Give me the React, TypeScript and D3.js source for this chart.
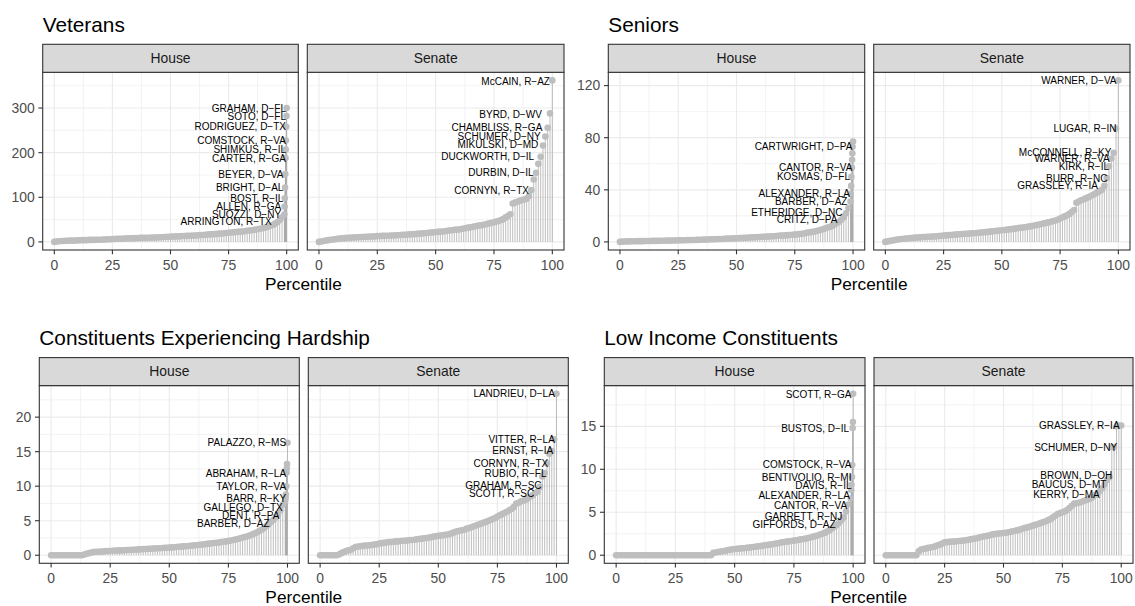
import React from "react";
import * as d3 from "d3";

// ---------------- DATA ----------------
const xTicks = [0, 25, 50, 75, 100];
const xMinor = [12.5, 37.5, 62.5, 87.5];

const vetYTicks = [0, 100, 200, 300];
const vetYMinor = [50, 150, 250, 350];
const senYTicks = [0, 40, 80, 120];
const senYMinor = [20, 60, 100];
const hardYTicks = [0, 5, 10, 15, 20];
const hardYMinor = [2.5, 7.5, 12.5, 17.5, 22.5];
const lowYTicks = [0, 5, 10, 15];
const lowYMinor = [2.5, 7.5, 12.5, 17.5];

// value at each integer percentile (index = percentile)
const vetHouseCurve = [
  0, 1, 1.5, 2, 2, 2.5, 2.5, 3, 3, 3,
  3.5, 3.5, 4, 4, 4, 4.5, 4.5, 4.5, 5, 5,
  5, 5.5, 5.5, 6, 6, 6.5, 6.5, 7, 7, 7,
  7.5, 7.5, 8, 8, 8, 8.5, 8.5, 9, 9, 9,
  9.5, 9.5, 10, 10, 10, 10.5, 10.5, 11, 11, 11.5,
  11.5, 12, 12, 12.5, 12.5, 13, 13, 13.5, 14, 14,
  14.5, 14.5, 15, 15.5, 15.5, 16, 16.5, 17, 17, 17.5,
  18, 18.5, 19, 19.5, 20, 20.5, 21, 21.5, 22, 22.5,
  23, 23.5, 24, 25, 25.5, 26, 27, 28, 29, 30,
  31, 32.5, 34, 36, 38, 41, 44, 49, 55,
];
const vetHouseTops: [number, number][] = [
  [99.0, 62], [99.1, 79], [99.2, 98], [99.3, 122], [99.4, 152], [99.5, 188],
  [99.6, 207], [99.7, 227], [99.8, 258], [99.9, 282], [100, 300],
];
const vetHouseLabels: [string, number, number][] = [
  ["GRAHAM, D\u2212FL", 99.7, 300], ["SOTO, D\u2212FL", 99.7, 282],
  ["RODRIGUEZ, D\u2212TX", 99.7, 258], ["COMSTOCK, R\u2212VA", 99.7, 227],
  ["SHIMKUS, R\u2212IL", 99.7, 207], ["CARTER, R\u2212GA", 99.7, 188],
  ["BEYER, D\u2212VA", 98.6, 152], ["BRIGHT, D\u2212AL", 98.6, 122],
  ["BOST, R\u2212IL", 98.6, 98], ["ALLEN, R\u2212GA", 97.6, 79],
  ["SUOZZI, D\u2212NY", 97.6, 62], ["ARRINGTON, R\u2212TX", 93.6, 45],
];

const vetSenateCurve = [
  0, 1, 2, 3, 4, 5, 5.5, 6, 7, 7.5,
  8, 8.5, 9, 9.5, 10, 10, 10.5, 10.5, 11, 11,
  11.5, 11.5, 12, 12, 12.5, 13, 13, 13.5, 13.5, 14,
  14, 14.5, 14.5, 15, 15, 15.5, 16, 16, 16.5, 17,
  17, 17.5, 18, 18.5, 19, 19.5, 20, 20.5, 21, 21.5,
  22, 22.5, 23, 23.5, 24, 25, 25.5, 26, 27, 27.5,
  28, 29, 30, 31, 32, 33, 34, 35, 36, 37,
  38, 39, 40, 41.5, 43, 44, 45.5, 47, 49, 51,
  55, 58, 62, 86, 88, 90, 92, 94, 95, 97,
  103, 116, 140, 155, 175, 191, 216, 236, 256, 288, 362,
];
const vetSenateTops: [number, number][] = [];
const vetSenateLabels: [string, number, number][] = [
  ["McCAIN, R\u2212AZ", 99, 360], ["BYRD, D\u2212WV", 95.5, 286],
  ["CHAMBLISS, R\u2212GA", 95.7, 256], ["SCHUMER, D\u2212NY", 95, 237],
  ["MIKULSKI, D\u2212MD", 94, 219], ["DUCKWORTH, D\u2212IL", 92.2, 191],
  ["DURBIN, D\u2212IL", 92, 155], ["CORNYN, R\u2212TX", 90, 116],
];

const senHouseCurve = [
  0, 0.2, 0.3, 0.4, 0.4, 0.5, 0.5, 0.5, 0.6, 0.6,
  0.6, 0.7, 0.7, 0.7, 0.8, 0.8, 0.8, 0.9, 0.9, 0.9,
  1, 1, 1, 1.1, 1.1, 1.2, 1.2, 1.3, 1.3, 1.4,
  1.4, 1.5, 1.5, 1.6, 1.6, 1.7, 1.8, 1.8, 1.9, 2,
  2, 2.1, 2.2, 2.2, 2.3, 2.4, 2.5, 2.6, 2.6, 2.7,
  2.8, 2.9, 3, 3.1, 3.2, 3.3, 3.4, 3.5, 3.6, 3.7,
  3.8, 3.9, 4, 4.1, 4.2, 4.3, 4.4, 4.6, 4.7, 4.8,
  4.9, 5, 5.2, 5.3, 5.5, 5.6, 5.8, 6, 6.2, 6.5,
  7, 7.2, 7.5, 7.8, 8.2, 8.7, 9.2, 9.7, 10.3, 11,
  11.5, 12.3, 13.2, 14.6, 15.5, 17, 19, 22, 26,
];
const senHouseTops: [number, number][] = [
  [98.9, 31], [99.0, 37], [99.2, 43], [99.3, 50], [99.5, 57],
  [99.6, 63], [99.7, 68], [99.8, 73], [100, 77],
];
const senHouseLabels: [string, number, number][] = [
  ["CARTWRIGHT, D\u2212PA", 99.7, 73.6], ["CANTOR, R\u2212VA", 99.7, 57.4],
  ["KOSMAS, D\u2212FL", 98.7, 50.5], ["ALEXANDER, R\u2212LA", 98.7, 37.2],
  ["BARBER, D\u2212AZ", 97.6, 30.8], ["ETHERIDGE, D\u2212NC", 95.5, 22.8],
  ["CRITZ, D\u2212PA", 93.3, 17.2],
];

const senSenateCurve = [
  0, 0.4, 0.8, 1.1, 1.4, 1.8, 2, 2.2, 2.4, 2.6,
  2.8, 3, 3.1, 3.3, 3.4, 3.5, 3.7, 3.8, 3.9, 4,
  4.1, 4.2, 4.4, 4.5, 4.7, 4.9, 5, 5.2, 5.3, 5.5,
  5.6, 5.8, 5.9, 6, 6.2, 6.3, 6.4, 6.6, 6.7, 6.9,
  7, 7.2, 7.4, 7.5, 7.7, 7.9, 8.1, 8.3, 8.6, 8.8,
  9, 9.2, 9.4, 9.6, 9.8, 10, 10.3, 10.6, 10.8, 11,
  11.3, 11.6, 11.9, 12.2, 12.6, 13, 13.4, 13.8, 14.2, 14.6,
  15, 15.5, 16, 16.5, 17, 18, 18.8, 19.6, 20.5, 21.5,
  23, 24.5, 30, 31, 32, 32.6, 33.4, 34.2, 35, 36,
  37, 38, 39, 40, 43, 49, 58, 64, 68.5, 87, 124,
];
const senSenateTops: [number, number][] = [];
const senSenateLabels: [string, number, number][] = [
  ["WARNER, D\u2212VA", 99.2, 124], ["LUGAR, R\u2212IN", 99.2, 87],
  ["McCONNELL, R\u2212KY", 97, 68.5], ["WARNER, R\u2212VA", 96.3, 64],
  ["KIRK, R\u2212IL", 96, 58], ["BURR, R\u2212NC", 95.3, 49],
  ["GRASSLEY, R\u2212IA", 91.2, 43],
];

const hardHouseCurve = [
  0, 0, 0, 0, 0, 0, 0, 0, 0, 0,
  0, 0, 0, 0, 0.1, 0.2, 0.3, 0.4, 0.45, 0.5,
  0.5, 0.55, 0.55, 0.6, 0.6, 0.62, 0.65, 0.67, 0.68, 0.7,
  0.7, 0.72, 0.74, 0.76, 0.78, 0.8, 0.82, 0.84, 0.86, 0.88,
  0.9, 0.92, 0.94, 0.96, 0.98, 1, 1.02, 1.04, 1.06, 1.08,
  1.1, 1.13, 1.16, 1.19, 1.22, 1.25, 1.28, 1.31, 1.34, 1.37,
  1.4, 1.44, 1.48, 1.52, 1.56, 1.6, 1.64, 1.68, 1.72, 1.76,
  1.8, 1.85, 1.9, 1.95, 2, 2.06, 2.12, 2.2, 2.28, 2.36,
  2.45, 2.55, 2.65, 2.75, 2.85, 3, 3.15, 3.3, 3.5, 3.7,
  3.9, 4.2, 4.5, 4.8, 5.1, 5.5, 5.9, 6.5, 7.3,
];
const hardHouseTops: [number, number][] = [
  [99.0, 7.8], [99.2, 8.3], [99.3, 8.8], [99.5, 10.0], [99.6, 12.0],
  [99.7, 12.6], [99.8, 13.2], [100, 16.3],
];
const hardHouseLabels: [string, number, number][] = [
  ["PALAZZO, R\u2212MS", 99.4, 16.3], ["ABRAHAM, R\u2212LA", 99.4, 11.9],
  ["TAYLOR, R\u2212VA", 99.4, 10.0], ["BARR, R\u2212KY", 99.4, 8.25],
  ["GALLEGO, D\u2212TX", 98, 6.9], ["DENT, R\u2212PA", 96.6, 5.75],
  ["BARBER, D\u2212AZ", 92.4, 4.56],
];

const hardSenateCurve = [
  0, 0, 0, 0, 0, 0, 0, 0, 0.1, 0.3,
  0.45, 0.6, 0.7, 0.8, 1, 1.2, 1.25, 1.3, 1.35, 1.4,
  1.4, 1.45, 1.5, 1.55, 1.6, 1.7, 1.75, 1.8, 1.85, 1.9,
  1.9, 1.95, 2, 2, 2.05, 2.1, 2.1, 2.15, 2.2, 2.2,
  2.25, 2.3, 2.35, 2.4, 2.45, 2.5, 2.55, 2.6, 2.7, 2.75,
  2.8, 2.85, 2.9, 2.95, 3, 3.1, 3.2, 3.35, 3.45, 3.55,
  3.6, 3.7, 3.85, 3.95, 4.05, 4.2, 4.3, 4.45, 4.55, 4.7,
  4.8, 4.95, 5.1, 5.25, 5.4, 5.6, 5.8, 5.95, 6.1, 6.3,
  6.5, 6.7, 7, 7.5, 7.6, 7.8, 7.9, 8.05, 8.25, 8.5,
  8.7, 9, 9.2, 9.9, 11.4, 11.9, 13.3, 14.7, 15.1, 16.8, 23.4,
];
const hardSenateTops: [number, number][] = [];
const hardSenateLabels: [string, number, number][] = [
  ["LANDRIEU, D\u2212LA", 99.3, 23.4], ["VITTER, R\u2212LA", 99.3, 16.8],
  ["ERNST, R\u2212IA", 98.6, 15.1], ["CORNYN, R\u2212TX", 96.5, 13.3],
  ["RUBIO, R\u2212FL", 95.8, 11.9], ["GRAHAM, R\u2212SC", 93.7, 10.1],
  ["SCOTT, R\u2212SC", 90.6, 9.0],
];

const lowHouseCurve = [
  0, 0, 0, 0, 0, 0, 0, 0, 0, 0,
  0, 0, 0, 0, 0, 0, 0, 0, 0, 0,
  0, 0, 0, 0, 0, 0, 0, 0, 0, 0,
  0, 0, 0, 0, 0, 0, 0, 0, 0, 0,
  0, 0.27, 0.32, 0.37, 0.42, 0.46, 0.52, 0.58, 0.63, 0.68,
  0.73, 0.75, 0.77, 0.8, 0.82, 0.85, 0.88, 0.92, 0.96, 1,
  1.04, 1.08, 1.12, 1.16, 1.2, 1.23, 1.28, 1.33, 1.38, 1.44,
  1.5, 1.54, 1.58, 1.62, 1.66, 1.7, 1.74, 1.79, 1.84, 1.88,
  1.93, 2, 2.07, 2.14, 2.22, 2.3, 2.4, 2.5, 2.6, 2.75,
  2.9, 3.1, 3.3, 3.5, 3.75, 4.05, 4.4, 5.1, 5.9,
];
const lowHouseTops: [number, number][] = [
  [99.0, 6.6], [99.2, 7.6], [99.3, 8.2], [99.5, 9.1], [99.6, 10.5],
  [99.8, 14.8], [99.9, 15.5], [100, 18.8],
];
const lowHouseLabels: [string, number, number][] = [
  ["SCOTT, R\u2212GA", 99.3, 18.7], ["BUSTOS, D\u2212IL", 98.3, 14.7],
  ["COMSTOCK, R\u2212VA", 99.3, 10.5], ["BENTIVOLIO, R\u2212MI", 99.3, 9.06],
  ["DAVIS, R\u2212IL", 99.3, 8.06], ["ALEXANDER, R\u2212LA", 98.6, 7.0],
  ["CANTOR, R\u2212VA", 97.5, 5.75], ["GARRETT, R\u2212NJ", 95.4, 4.5],
  ["GIFFORDS, D\u2212AZ", 92.6, 3.6],
];

const lowSenateCurve = [
  0, 0, 0, 0, 0, 0, 0, 0, 0, 0,
  0, 0, 0, 0, 0.46, 0.66, 0.72, 0.78, 0.85, 0.9,
  0.96, 1.05, 1.15, 1.23, 1.35, 1.5, 1.52, 1.55, 1.58, 1.6,
  1.62, 1.65, 1.68, 1.7, 1.75, 1.8, 1.85, 1.9, 1.95, 2.0,
  2.08, 2.15, 2.2, 2.25, 2.3, 2.4, 2.45, 2.5, 2.52, 2.55,
  2.58, 2.62, 2.68, 2.72, 2.78, 2.85, 2.92, 3, 3.08, 3.16,
  3.24, 3.32, 3.4, 3.5, 3.58, 3.66, 3.76, 3.86, 3.96, 4.08,
  4.2, 4.4, 4.6, 4.8, 4.9, 5, 5.1, 5.25, 5.5, 5.75,
  6, 6.05, 6.1, 6.2, 6.3, 6.4, 6.5, 6.6, 6.8, 7.0,
  7.2, 7.5, 7.8, 8.25, 8.75, 9.1, 12.6, 12.6, 15.0, 15.1, 15.1,
];
const lowSenateTops: [number, number][] = [];
const lowSenateLabels: [string, number, number][] = [
  ["GRASSLEY, R\u2212IA", 99.3, 15.1], ["SCHUMER, D\u2212NY", 98.3, 12.5],
  ["BROWN, D\u2212OH", 96.2, 9.25], ["BAUCUS, D\u2212MT", 93.7, 8.2],
  ["KERRY, D\u2212MA", 90.9, 7.1],
];

const chambers = ["House", "Senate"];
const titles = ["Veterans", "Seniors", "Constituents Experiencing Hardship", "Low Income Constituents"];

// ---------------- LAYOUT ----------------
const FONT = "'Liberation Sans', Arial, Helvetica, sans-serif";
const layouts = [
  { house: [42.7, 298.3], senate: [307.3, 564], top: 44.3 },
  { house: [608.3, 864.7], senate: [873.7, 1130], top: 44.3 },
  { house: [39.3, 299.3], senate: [308.3, 568.3], top: 357.6 },
  { house: [604.3, 865], senate: [874, 1133], top: 357.6 },
];
const STRIP_H = 28;
const PANEL_H = 177.7;

type PanelData = { curve: number[]; tops: [number, number][]; labels: [string, number, number][] };

const plots: { yTicks: number[]; yMinor: number[]; panels: PanelData[] }[] = [
  { yTicks: vetYTicks, yMinor: vetYMinor, panels: [
    { curve: vetHouseCurve, tops: vetHouseTops, labels: vetHouseLabels },
    { curve: vetSenateCurve, tops: vetSenateTops, labels: vetSenateLabels }] },
  { yTicks: senYTicks, yMinor: senYMinor, panels: [
    { curve: senHouseCurve, tops: senHouseTops, labels: senHouseLabels },
    { curve: senSenateCurve, tops: senSenateTops, labels: senSenateLabels }] },
  { yTicks: hardYTicks, yMinor: hardYMinor, panels: [
    { curve: hardHouseCurve, tops: hardHouseTops, labels: hardHouseLabels },
    { curve: hardSenateCurve, tops: hardSenateTops, labels: hardSenateLabels }] },
  { yTicks: lowYTicks, yMinor: lowYMinor, panels: [
    { curve: lowHouseCurve, tops: lowHouseTops, labels: lowHouseLabels },
    { curve: lowSenateCurve, tops: lowSenateTops, labels: lowSenateLabels }] },
];

function Panel({ x0, x1, top, name, data, y, yTicks, yMinor, showY }: any) {
  const x = d3.scaleLinear().domain([-5, 105]).range([x0, x1]);
  const pTop = top + STRIP_H;
  const pBot = pTop + PANEL_H;
  const pts: [number, number][] = (data.curve as number[]).map((v, i) => [i, v] as [number, number]).concat(data.tops);
  return (
    <g>
      <rect x={x0} y={pTop} width={x1 - x0} height={PANEL_H} fill="#FFFFFF" />
      {yMinor.map((t: number) => (
        <line key={"ym" + t} x1={x0} x2={x1} y1={y(t)} y2={y(t)} stroke="#EBEBEB" strokeWidth={0.6} />
      ))}
      {xMinor.map((t) => (
        <line key={"xm" + t} x1={x(t)} x2={x(t)} y1={pTop} y2={pBot} stroke="#EBEBEB" strokeWidth={0.6} />
      ))}
      {yTicks.map((t: number) => (
        <line key={"yM" + t} x1={x0} x2={x1} y1={y(t)} y2={y(t)} stroke="#EBEBEB" strokeWidth={1.15} />
      ))}
      {xTicks.map((t) => (
        <line key={"xM" + t} x1={x(t)} x2={x(t)} y1={pTop} y2={pBot} stroke="#EBEBEB" strokeWidth={1.15} />
      ))}
      {pts.map(([p, v], i) => (
        <line key={"s" + i} x1={x(p)} x2={x(p)} y1={y(0)} y2={y(v)} stroke="#A9A9A9" strokeWidth={0.75} />
      ))}
      {pts.map(([p, v], i) => (
        <circle key={"c" + i} cx={x(p)} cy={y(v)} r={3.3} fill="#BEBEBE" />
      ))}
      {data.labels.map(([t, lx, ly]: [string, number, number], i: number) => (
        <text key={"l" + i} x={x(lx)} y={y(ly)} dy="0.35em" textAnchor="end" fontSize={10}
          fontFamily={FONT} fill="#000000">{t}</text>
      ))}
      <rect x={x0} y={pTop} width={x1 - x0} height={PANEL_H} fill="none" stroke="#333333" strokeWidth={1.1} />
      <rect x={x0} y={top} width={x1 - x0} height={STRIP_H} fill="#D9D9D9" stroke="#333333" strokeWidth={1.1} />
      <text x={(x0 + x1) / 2} y={top + STRIP_H / 2} dy="0.35em" textAnchor="middle" fontSize={13.9}
        fontFamily={FONT} fill="#1A1A1A">{name}</text>
      {xTicks.map((t) => (
        <g key={"xt" + t}>
          <line x1={x(t)} x2={x(t)} y1={pBot} y2={pBot + 4.3} stroke="#333333" strokeWidth={1.1} />
          <text x={x(t)} y={pBot + 20} textAnchor="middle" fontSize={13.9} fontFamily={FONT} fill="#4D4D4D">{t}</text>
        </g>
      ))}
      {showY && yTicks.map((t: number) => (
        <g key={"yt" + t}>
          <line x1={x0 - 4.3} x2={x0} y1={y(t)} y2={y(t)} stroke="#333333" strokeWidth={1.1} />
          <text x={x0 - 8} y={y(t)} dy="0.35em" textAnchor="end" fontSize={13.9} fontFamily={FONT} fill="#4D4D4D">{t}</text>
        </g>
      ))}
    </g>
  );
}

export default function App() {
  return (
    <svg width={1135} height={606} style={{ position: "absolute", left: 0, top: 0, background: "#FFFFFF" }}>
      <rect x={0} y={0} width={1135} height={606} fill="#FFFFFF" />
      {plots.map((pl, k) => {
        const L = layouts[k];
        const allVals = pl.panels.flatMap((p) => p.curve.concat(p.tops.map((t) => t[1])));
        const mx = d3.max(allVals) as number;
        const pTop = L.top + STRIP_H;
        const y = d3.scaleLinear().domain([-0.05 * mx, 1.05 * mx]).range([pTop + PANEL_H, pTop]);
        const ranges = [L.house, L.senate];
        return (
          <g key={k}>
            <text x={L.house[0]} y={L.top - 12.6} fontSize={20.8} fontFamily={FONT} fill="#000000">{titles[k]}</text>
            {pl.panels.map((p, j) => (
              <Panel key={j} x0={ranges[j][0]} x1={ranges[j][1]} top={L.top} name={chambers[j]} data={p} y={y}
                yTicks={pl.yTicks} yMinor={pl.yMinor} showY={j === 0} />
            ))}
            <text x={(L.house[0] + L.senate[1]) / 2} y={pTop + PANEL_H + 40} textAnchor="middle" fontSize={17.3}
              fontFamily={FONT} fill="#000000">Percentile</text>
          </g>
        );
      })}
    </svg>
  );
}
